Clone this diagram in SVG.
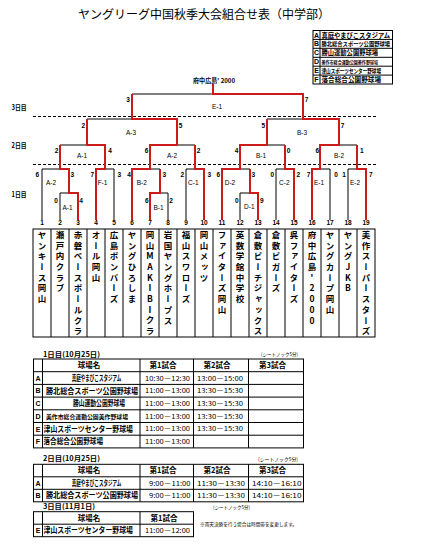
<svg xmlns="http://www.w3.org/2000/svg" width="421" height="554" viewBox="0 0 421 554">
<style>
text{font-family:"Liberation Sans","Noto Sans CJK JP","Noto Sans CJK SC",sans-serif;fill:#000}
.jp{font-family:"Noto Sans CJK JP","Noto Sans CJK SC",sans-serif}
.title{font-size:12px;font-family:"Noto Sans CJK JP",sans-serif;text-anchor:middle}
.team{font-family:"Noto Sans CJK JP","Noto Sans CJK SC",sans-serif;font-size:8.5px;font-weight:bold;writing-mode:vertical-rl;text-orientation:upright;letter-spacing:2.2px}
.teamh{font-family:"Noto Sans CJK JP","Noto Sans CJK SC",sans-serif;font-size:8.5px;font-weight:bold;text-anchor:middle}
.num{font-size:6.5px;font-weight:bold;text-anchor:middle}
.sc{font-size:6.5px;font-weight:bold;text-anchor:middle}
.ml{font-size:6.5px;text-anchor:middle}
.day{font-size:7px;font-weight:bold;text-anchor:middle;font-family:"Noto Sans CJK JP",sans-serif}
.lg{font-size:7px;font-weight:bold;font-family:"Noto Sans CJK JP",sans-serif}
.ltr{font-size:7px;font-weight:bold;text-anchor:middle}
.cell{font-size:7.5px;font-weight:bold;font-family:"Noto Sans CJK JP",sans-serif}
.hd{font-size:7.5px;font-weight:bold;text-anchor:middle;font-family:"Noto Sans CJK JP",sans-serif}
.tm{font-size:6.5px;font-family:"Noto Sans CJK JP",sans-serif}
.sm{font-size:5px;font-family:"Noto Sans CJK JP",sans-serif}
.blk{fill:none;stroke:#000;stroke-width:1}
.red{fill:none;stroke:#cc1a1a;stroke-width:2;stroke-linejoin:miter}
.dash{stroke:#000;stroke-width:1;stroke-dasharray:3 2}
.grid{fill:none;stroke:#000;stroke-width:1}
</style>

<text class="title" x="204" y="18.5">ヤングリーグ中国秋季大会組合せ表（中学部）</text>

<g id="legend">
<rect class="grid" x="313" y="30.5" width="79.5" height="53.5"/>
<path class="grid" d="M320 30.5V84 M313 39.4H392.5 M313 48.3H392.5 M313 57.3H392.5 M313 66.2H392.5 M313 75.1H392.5"/>
<text class="ltr" x="316.5" y="37.5">A</text>
<text class="ltr" x="316.5" y="46.4">B</text>
<text class="ltr" x="316.5" y="55.3">C</text>
<text class="ltr" x="316.5" y="64.3">D</text>
<text class="ltr" x="316.5" y="73.2">E</text>
<text class="ltr" x="316.5" y="82.1">F</text>
<text class="lg" x="321.5" y="37.6" textLength="68.5" lengthAdjust="spacingAndGlyphs">真庭やまびこスタジアム</text>
<text class="lg" x="321.5" y="46.2" style="font-size:6px" textLength="68.5" lengthAdjust="spacingAndGlyphs">勝北総合スポーツ公園野球場</text>
<text class="lg" x="321.5" y="55.4" textLength="56.5" lengthAdjust="spacingAndGlyphs">勝山運動公園野球場</text>
<text class="lg" x="321.5" y="64" style="font-size:5px" textLength="56.5" lengthAdjust="spacingAndGlyphs">美作市総合運動公園美作野球場</text>
<text class="lg" x="321.5" y="73" style="font-size:6px" textLength="59.5" lengthAdjust="spacingAndGlyphs">津山スポーツセンター野球場</text>
<text class="lg" x="321.5" y="82.2" textLength="59.5" lengthAdjust="spacingAndGlyphs">落合総合公園野球場</text>
</g>

<g id="day-labels">
<text class="day" x="19" y="109.5" textLength="15" lengthAdjust="spacingAndGlyphs">3日目</text>
<text class="day" x="19" y="147.5" textLength="15" lengthAdjust="spacingAndGlyphs">2日目</text>
<text class="day" x="19" y="196.5" textLength="15" lengthAdjust="spacingAndGlyphs">1日目</text>
</g>

<g id="champion">
<text class="jp" x="214" y="83" style="font-size:6.5px;font-weight:bold" text-anchor="middle" textLength="42" lengthAdjust="spacingAndGlyphs">府中広島' 2000</text>
</g>

<g id="connectors">
<line class="dash" x1="33" y1="116.5" x2="376" y2="116.5"/>
<line class="dash" x1="33" y1="164.5" x2="376" y2="164.5"/>
<path class="blk" d="M60 220V193H78V220 M42 220V169H69V193 M96 220V169H114V220 M150 220V193H168V220 M132 220V169H160V193 M186 220V169H204V220 M240 220V193H258V220 M222 220V169H250V193 M276 220V169H294V220 M312 220V169H330V220 M348 220V169H366V220"/>
<path class="blk" d="M60 169V145H105V169 M150 169V145H195V169 M240 169V145H285V169 M320 169V145H357V169"/>
<path class="blk" d="M87 145V119H177V145 M267 145V119H339V145 M132 119V94H303V119"/>
<path class="red" d="M78 220V193H69V169H60V145"/>
<path class="red" d="M96 220V169H105V145H87V119"/>
<path class="red" d="M150 220V193H160V169"/>
<path class="red" d="M132 220V169H150V145H177V119H132V94"/>
<path class="red" d="M204 220V169H195V145"/>
<path class="red" d="M222 220V169H240V145H267V119"/>
<path class="red" d="M258 220V193H250V169"/>
<path class="red" d="M294 220V169H285V145"/>
<path class="red" d="M312 220V169H320V145H339V119H303V94H213V84"/>
<path class="red" d="M366 220V169H357V145"/>
</g>

<g id="match-3-E1"><text class="ml" x="217" y="109.3">E-1</text><text class="sc" x="128" y="102.3">3</text><text class="sc" x="306.5" y="102.3">7</text></g>
<g id="match-2-A3"><text class="ml" x="131" y="135.3">A-3</text><text class="sc" x="83.3" y="128.3">2</text><text class="sc" x="180.5" y="128.3">5</text></g>
<g id="match-2-B3"><text class="ml" x="302" y="135.3">B-3</text><text class="sc" x="263.3" y="128.3">5</text><text class="sc" x="342.5" y="128.3">7</text></g>
<g id="match-2-A1"><text class="ml" x="82" y="158.3">A-1</text><text class="sc" x="56.5" y="153">2</text><text class="sc" x="110" y="153">4</text></g>
<g id="match-2-A2"><text class="ml" x="172" y="158.3">A-2</text><text class="sc" x="146.5" y="153">6</text><text class="sc" x="198.5" y="153">2</text></g>
<g id="match-2-B1"><text class="ml" x="261" y="158.3">B-1</text><text class="sc" x="236.5" y="153">4</text><text class="sc" x="288.5" y="153">0</text></g>
<g id="match-2-B2"><text class="ml" x="339" y="158.3">B-2</text><text class="sc" x="317.3" y="153">6</text><text class="sc" x="361.7" y="153">1</text></g>

<g id="match-1-A2"><text class="ml" x="51" y="185">A-2</text><text class="sc" x="37.3" y="177.3">6</text><text class="sc" x="72.3" y="177.3">3</text></g>
<g id="match-1-A1"><text class="ml" x="67.5" y="209.6">A-1</text><text class="sc" x="56" y="203">0</text><text class="sc" x="81" y="203">4</text></g>
<g id="match-1-F1"><text class="ml" x="102.5" y="185">F-1</text><text class="sc" x="92.3" y="177.3">7</text><text class="sc" x="119.3" y="177.3">3</text></g>
<g id="match-1-B2"><text class="ml" x="141.7" y="185">B-2</text><text class="sc" x="129" y="177.3">4</text><text class="sc" x="164.3" y="177.3">3</text></g>
<g id="match-1-B1"><text class="ml" x="158.5" y="209.6">B-1</text><text class="sc" x="146.7" y="203">6</text><text class="sc" x="171" y="203">2</text></g>
<g id="match-1-C1"><text class="ml" x="193.3" y="185">C-1</text><text class="sc" x="182.3" y="177.3">2</text><text class="sc" x="209.3" y="177.3">3</text></g>
<g id="match-1-D2"><text class="ml" x="230" y="185">D-2</text><text class="sc" x="218.3" y="177.3">6</text><text class="sc" x="253.3" y="177.3">3</text></g>
<g id="match-1-D1"><text class="ml" x="249.3" y="208.5">D-1</text><text class="sc" x="236.7" y="203">0</text><text class="sc" x="261.7" y="203">9</text></g>
<g id="match-1-C2"><text class="ml" x="284.3" y="185">C-2</text><text class="sc" x="272.3" y="177.3">0</text><text class="sc" x="298.3" y="177.3">2</text></g>
<g id="match-1-E1"><text class="ml" x="319" y="185">E-1</text><text class="sc" x="308.5" y="177.3">7</text><text class="sc" x="336" y="177.3">0</text></g>
<g id="match-1-E2"><text class="ml" x="355" y="185">E-2</text><text class="sc" x="344" y="177.3">1</text><text class="sc" x="370.7" y="177.3">7</text></g>

<g id="team-table">
<rect class="grid" x="33" y="229" width="342" height="108"/>
<path class="grid" d="M51 229V337M69 229V337M87 229V337M105 229V337M123 229V337M141 229V337M159 229V337M177 229V337M195 229V337M213 229V337M231 229V337M249 229V337M267 229V337M285 229V337M303 229V337M321 229V337M339 229V337M357 229V337"/>
</g>
<g id="team-1"><text class="num" x="42" y="224.5">1</text><text class="team" x="42" y="230.5">ヤンキース岡山</text></g>
<g id="team-2"><text class="num" x="60" y="224.5">2</text><text class="team" x="60" y="230.5">瀬戸内クラブ</text></g>
<g id="team-3"><text class="num" x="78" y="224.5">3</text><text class="team" x="78" y="230.5">赤磐ベースボールクラ</text></g>
<g id="team-4"><text class="num" x="96" y="224.5">4</text><text class="team" x="96" y="230.5">オール岡山</text></g>
<g id="team-5"><text class="num" x="114" y="224.5">5</text><text class="team" x="114" y="230.5">広島ボンバーズ</text></g>
<g id="team-6"><text class="num" x="132" y="224.5">6</text><text class="team" x="132" y="230.5">ヤングひろしま</text></g>
<g id="team-7"><text class="num" x="150" y="224.5">7</text><text class="teamh"><tspan x="150" y="237.8">岡</tspan><tspan x="150" y="248.5">山</tspan><tspan x="150" y="259.2">M</tspan><tspan x="150" y="269.9">A</tspan><tspan x="150" y="280.6">K</tspan><tspan x="150" y="291.3">I</tspan><tspan x="150" y="302">B</tspan><tspan x="150" y="312.7">I</tspan><tspan x="150" y="323.4">ク</tspan><tspan x="150" y="334.1">ラ</tspan></text></g>
<g id="team-8"><text class="num" x="168" y="224.5">8</text><text class="team" x="168" y="230.5">岩国ヤングホープス</text></g>
<g id="team-9"><text class="num" x="186" y="224.5">9</text><text class="team" x="186" y="230.5">福山スワローズ</text></g>
<g id="team-10"><text class="num" x="204" y="224.5">10</text><text class="team" x="204" y="230.5">岡山メッツ</text></g>
<g id="team-11"><text class="num" x="222" y="224.5">11</text><text class="team" x="222" y="230.5">ファイターズ岡山</text></g>
<g id="team-12"><text class="num" x="240" y="224.5">12</text><text class="team" x="240" y="230.5">英数学館中学校</text></g>
<g id="team-13"><text class="num" x="258" y="224.5">13</text><text class="team" x="258" y="230.5">倉敷ビーチジャックス</text></g>
<g id="team-14"><text class="num" x="276" y="224.5">14</text><text class="team" x="276" y="230.5">倉敷ビガーズ</text></g>
<g id="team-15"><text class="num" x="294" y="224.5">15</text><text class="team" x="294" y="230.5">呉ファイターズ</text></g>
<g id="team-16"><text class="num" x="312" y="224.5">16</text><text class="team" x="312" y="230.5">府中広島'2000</text></g>
<g id="team-17"><text class="num" x="330" y="224.5">17</text><text class="team" x="330" y="230.5">ヤングカープ岡山</text></g>
<g id="team-18"><text class="num" x="348" y="224.5">18</text><text class="team" x="348" y="230.5">ヤングJKB</text></g>
<g id="team-19"><text class="num" x="366" y="224.5">19</text><text class="team" x="366" y="230.5">美作スーパースターズ</text></g>

<g id="schedule-day1">
<text class="cell" x="43" y="356.5" style="font-size:7px" textLength="57" lengthAdjust="spacingAndGlyphs">1日目(10月25日)</text>
<text class="sm" x="298" y="356" text-anchor="end" textLength="37" lengthAdjust="spacingAndGlyphs">(シートノック5分)</text>
<rect class="grid" x="33.5" y="359" width="270" height="88.9"/>
<path class="grid" d="M42.5 359V447.9M140 359V447.9M193.5 359V447.9M248.5 359V447.9M33.5 371.7H303.5M33.5 384.4H303.5M33.5 397.1H303.5M33.5 409.8H303.5M33.5 422.5H303.5M33.5 435.2H303.5"/>
<text class="hd" x="89" y="368">球場名</text>
<text class="hd" x="163" y="368">第1試合</text>
<text class="hd" x="217" y="368">第2試合</text>
<text class="hd" x="272.5" y="368">第3試合</text>
<text class="ltr" x="38" y="380.7">A</text>
<text class="ltr" x="38" y="393.4">B</text>
<text class="ltr" x="38" y="406.1">C</text>
<text class="ltr" x="38" y="418.8">D</text>
<text class="ltr" x="38" y="431.5">E</text>
<text class="ltr" x="38" y="444.2">F</text>
<text class="cell" transform="translate(71.7 380.8) scale(0.606 1)">真庭やまびこスタジアム</text>
<text class="cell" x="46" y="393.5" textLength="92" lengthAdjust="spacingAndGlyphs">勝北総合スポーツ公園野球場</text>
<text class="cell" x="73" y="406.2" textLength="52" lengthAdjust="spacingAndGlyphs">勝山運動公園野球場</text>
<text class="cell" x="46" y="418.6" style="font-size:5.5px" textLength="82" lengthAdjust="spacingAndGlyphs">美作市総合運動公園美作野球場</text>
<text class="cell" x="43.5" y="431.6" textLength="89.5" lengthAdjust="spacingAndGlyphs">津山スポーツセンター野球場</text>
<text class="cell" x="43.5" y="444.3" textLength="59.5" lengthAdjust="spacingAndGlyphs">落合総合公園野球場</text>
<text class="tm" x="145" y="380.6" textLength="45" lengthAdjust="spacingAndGlyphs">10:30－12:30</text>
<text class="tm" x="197" y="380.6" textLength="46" lengthAdjust="spacingAndGlyphs">13:00－15:00</text>
<text class="tm" x="145" y="393.3" textLength="45" lengthAdjust="spacingAndGlyphs">11:00－13:00</text>
<text class="tm" x="197" y="393.3" textLength="46" lengthAdjust="spacingAndGlyphs">13:30－15:30</text>
<text class="tm" x="145" y="406" textLength="45" lengthAdjust="spacingAndGlyphs">11:00－13:00</text>
<text class="tm" x="197" y="406" textLength="46" lengthAdjust="spacingAndGlyphs">13:30－15:30</text>
<text class="tm" x="145" y="418.7" textLength="45" lengthAdjust="spacingAndGlyphs">11:00－13:00</text>
<text class="tm" x="197" y="418.7" textLength="46" lengthAdjust="spacingAndGlyphs">13:30－15:30</text>
<text class="tm" x="145" y="431.4" textLength="45" lengthAdjust="spacingAndGlyphs">11:00－13:00</text>
<text class="tm" x="197" y="431.4" textLength="46" lengthAdjust="spacingAndGlyphs">13:30－15:30</text>
<text class="tm" x="145" y="444.1" textLength="45" lengthAdjust="spacingAndGlyphs">11:00－13:00</text>
</g>

<g id="schedule-day2">
<text class="cell" x="43" y="461" style="font-size:7px" textLength="57" lengthAdjust="spacingAndGlyphs">2日目(10月25日)</text>
<text class="sm" x="298" y="460.5" text-anchor="end" textLength="40" lengthAdjust="spacingAndGlyphs">(シートノック5分)</text>
<rect class="grid" x="33.5" y="464.3" width="270" height="37.5"/>
<path class="grid" d="M42.5 464.3V501.8M140 464.3V501.8M193.5 464.3V501.8M248.5 464.3V501.8M33.5 476.8H303.5M33.5 489.3H303.5"/>
<text class="hd" x="89" y="473.2">球場名</text>
<text class="hd" x="163" y="473.2">第1試合</text>
<text class="hd" x="217" y="473.2">第2試合</text>
<text class="hd" x="272.5" y="473.2">第3試合</text>
<text class="ltr" x="38" y="485.6">A</text>
<text class="ltr" x="38" y="498.1">B</text>
<text class="cell" transform="translate(71.7 485.7) scale(0.606 1)">真庭やまびこスタジアム</text>
<text class="cell" x="46" y="498.2" textLength="92" lengthAdjust="spacingAndGlyphs">勝北総合スポーツ公園野球場</text>
<text class="tm" x="149" y="485.5" textLength="41.5" lengthAdjust="spacingAndGlyphs">9:00－11:00</text>
<text class="tm" x="197" y="485.5" textLength="48" lengthAdjust="spacingAndGlyphs">11:30－13:30</text>
<text class="tm" x="252" y="485.5" textLength="49.5" lengthAdjust="spacingAndGlyphs">14:10－16:10</text>
<text class="tm" x="149" y="498" textLength="41.5" lengthAdjust="spacingAndGlyphs">9:00－11:00</text>
<text class="tm" x="197" y="498" textLength="48" lengthAdjust="spacingAndGlyphs">11:30－13:30</text>
<text class="tm" x="252" y="498" textLength="49.5" lengthAdjust="spacingAndGlyphs">14:10－16:10</text>
</g>

<g id="schedule-day3">
<text class="cell" x="43" y="509" style="font-size:7px" textLength="52" lengthAdjust="spacingAndGlyphs">3日目(11月1日)</text>
<text class="sm" x="250" y="508.5" text-anchor="end" textLength="37" lengthAdjust="spacingAndGlyphs">(シートノック5分)</text>
<rect class="grid" x="33.5" y="511.7" width="160" height="25"/>
<path class="grid" d="M42.5 511.7V536.7M140 511.7V536.7M33.5 524.2H193.5"/>
<text class="hd" x="89" y="520.6">球場名</text>
<text class="hd" x="164" y="520.6">第1試合</text>
<text class="ltr" x="38" y="533">E</text>
<text class="cell" x="43.5" y="533.1" textLength="89.5" lengthAdjust="spacingAndGlyphs">津山スポーツセンター野球場</text>
<text class="tm" x="145" y="532.9" textLength="45" lengthAdjust="spacingAndGlyphs">11:00－12:00</text>
<text class="sm" x="200" y="526" textLength="97" lengthAdjust="spacingAndGlyphs">※雨天決勝を行う場合は時間帯を変更します。</text>
</g>
</svg>
